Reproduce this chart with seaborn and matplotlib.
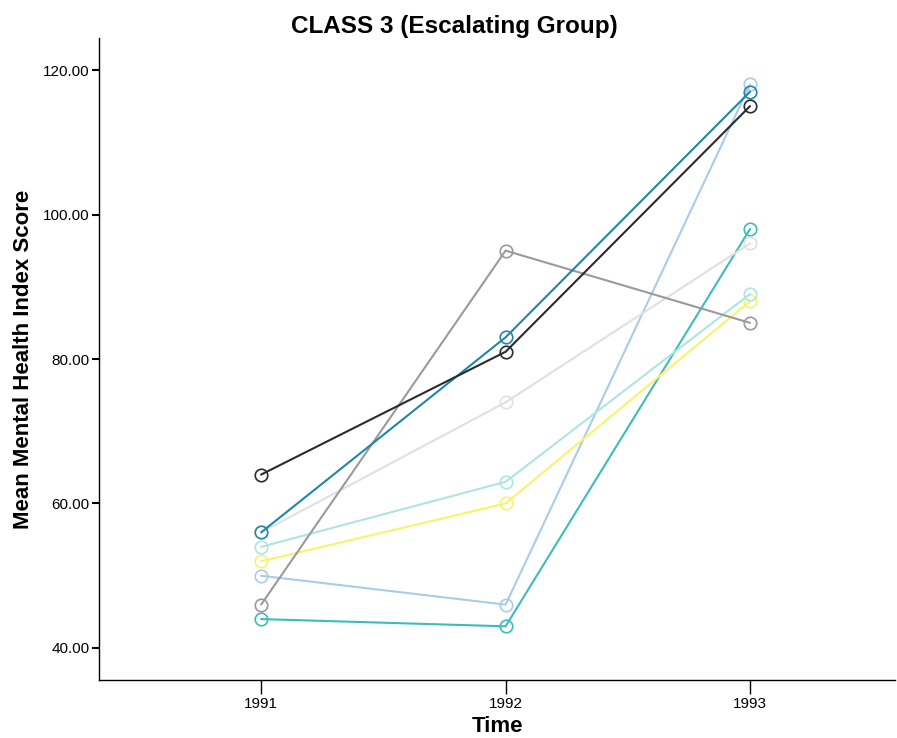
import pandas as pd
import matplotlib.pyplot as plt
import seaborn as sns
from matplotlib.ticker import FormatStrFormatter

# data: one row of scores per case
years = [1991, 1992, 1993]
case_names = ['A', 'B', 'C', 'D', 'E', 'F', 'G', 'H']
scores = {
    'A': [64, 81, 115],
    'B': [56, 83, 117],
    'C': [46, 95, 85],
    'D': [56, 74, 96],
    'E': [54, 63, 89],
    'F': [52, 60, 88],
    'G': [50, 46, 118],
    'H': [44, 43, 98],
}
case_colors = ['#2b2b2b', '#1f87a8', '#9a9a9a', '#e0e0e0',
               '#aee4e4', '#f8f36a', '#a9cbec', '#3cbdb9']

rows = []
for name in case_names:
    for yr, val in zip(years, scores[name]):
        rows.append({'Time': yr, 'Score': val, 'Case': name})
df = pd.DataFrame(rows)

sns.set_theme(style="white")
plt.rcParams['font.family'] = ['Liberation Sans', 'DejaVu Sans']
plt.rcParams['text.color'] = 'black'
plt.rcParams['axes.labelcolor'] = 'black'
plt.rcParams['xtick.color'] = 'black'
plt.rcParams['ytick.color'] = 'black'

fig = plt.figure(figsize=(8.97, 7.38), dpi=100)
ax = fig.add_axes([0.1104, 0.0786, 0.8874, 0.8699])

color_map = dict(zip(case_names, case_colors))
# draw in reverse so the dark lines sit on top
order = case_names[::-1]
sns.lineplot(data=df, x='Time', y='Score', hue='Case', hue_order=order,
             palette=color_map, marker='o', markeredgewidth=1.2, markersize=9,
             linewidth=1.5, legend=False, ax=ax)
for line, name in zip(ax.get_lines(), order):
    line.set_markeredgecolor(color_map[name])
    line.set_markerfacecolor('none')

ax.set_xlim(1990.337, 1993.593)
ax.set_ylim(35.57, 124.43)
ax.set_xticks(years)
ax.set_xticklabels([str(y) for y in years])
ax.set_yticks([40, 60, 80, 100, 120])
ax.yaxis.set_major_formatter(FormatStrFormatter('%.2f'))

sns.despine(ax=ax)
for s in ['left', 'bottom']:
    ax.spines[s].set_color('black')
    ax.spines[s].set_linewidth(1.0)
ax.tick_params(axis='y', direction='out', length=5, width=1.5,
               left=True, labelsize=11, pad=2)
ax.tick_params(axis='x', direction='out', length=10, width=1.0,
               bottom=True, labelsize=11, pad=2)

fig.text(0.507, 0.964, 'CLASS 3 (Escalating Group)', fontsize=17.5,
         fontweight='bold', ha='center', va='center')
ax.set_xlabel('Time', fontsize=16, fontweight='bold', labelpad=4)
ax.set_ylabel('Mean Mental Health Index Score', fontsize=16, fontweight='bold', labelpad=6)

fig.savefig('out.png', dpi=100)
